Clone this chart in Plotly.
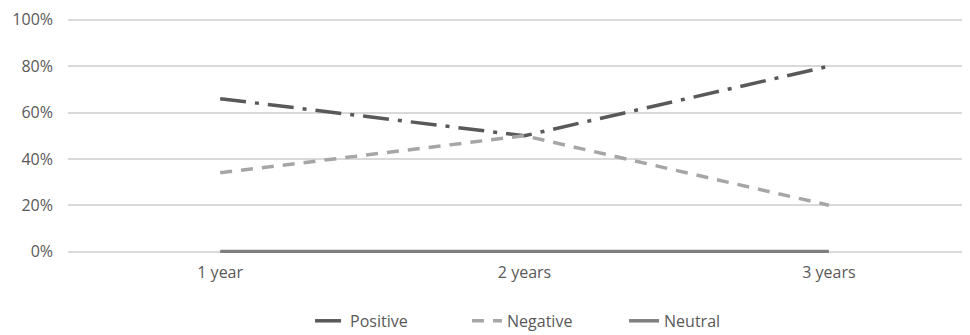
import plotly.graph_objects as go

categories = ["1 year", "2 years", "3 years"]
positive = [0.66, 0.50, 0.80]
negative = [0.34, 0.50, 0.20]
neutral = [0.0, 0.0, 0.0]
y_ticks = [0, 0.2, 0.4, 0.6, 0.8, 1.0]
y_tick_labels = ["0%", "20%", "40%", "60%", "80%", "100%"]

xpos = list(range(len(categories)))

fig = go.Figure()
fig.add_trace(go.Scatter(x=xpos, y=positive, name="Positive", mode="lines",
                         line=dict(color="#595959", width=3.5, dash="26px,9px,4px,9px")))
fig.add_trace(go.Scatter(x=xpos, y=negative, name="Negative", mode="lines",
                         line=dict(color="#a6a6a6", width=3.5, dash="12px,9px")))
fig.add_trace(go.Scatter(x=xpos, y=neutral, name="Neutral", mode="lines",
                         line=dict(color="#7f7f7f", width=3.5)))

fig.update_layout(
    width=970, height=335,
    margin=dict(l=60, r=0, t=10, b=90, autoexpand=False),
    paper_bgcolor="white", plot_bgcolor="white",
    font=dict(family="Open Sans, Liberation Sans, sans-serif", size=16, color="#595959"),
    showlegend=True,
    legend=dict(orientation="h", x=0.266, xanchor="left", yref="container", y=0.066,
                yanchor="middle", font=dict(size=16, color="#595959"), tracegroupgap=0,
                entrywidth=112, entrywidthmode="pixels"),
    xaxis=dict(tickvals=xpos, ticktext=categories, range=[-0.5, 2.49], automargin=False,
               showgrid=False, zeroline=False, showline=False, ticks="", ticklabelstandoff=8),
    yaxis=dict(tickvals=y_ticks, ticktext=y_tick_labels, range=[-0.006, 1.008], automargin=False,
               showgrid=True, gridcolor="#d9d9d9", gridwidth=2, zeroline=False,
               showline=False, ticks="", ticklabelstandoff=14),
)

fig.write_html("out.html")
